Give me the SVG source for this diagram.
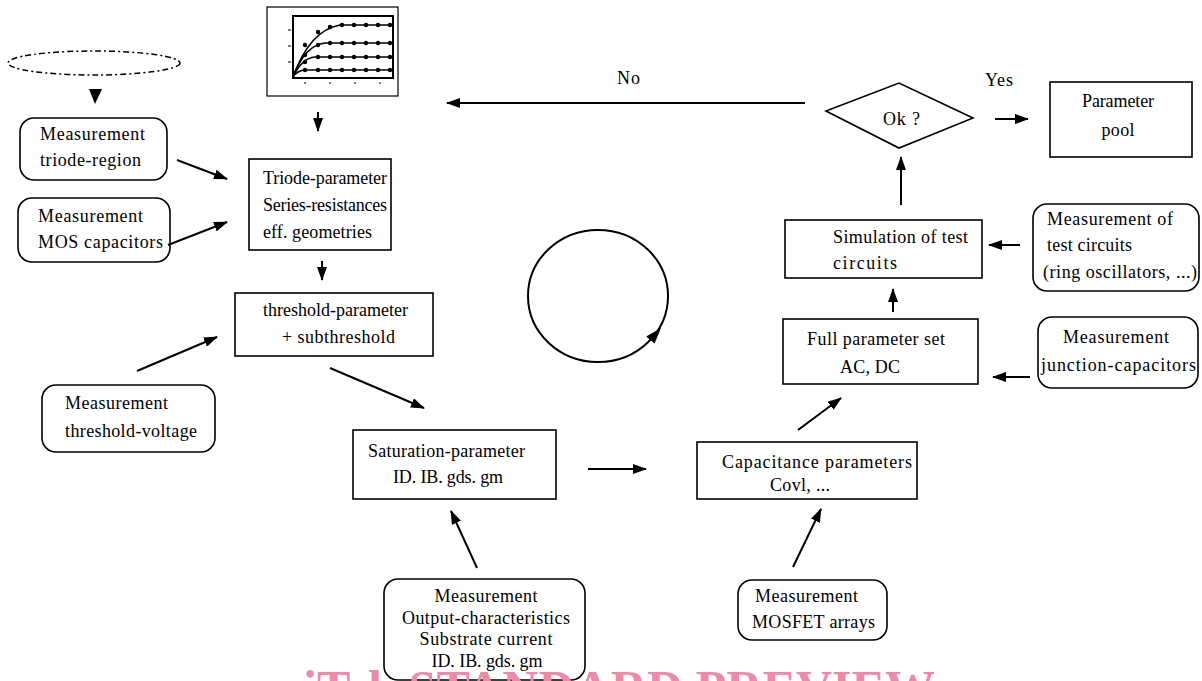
<svg xmlns="http://www.w3.org/2000/svg" width="1202" height="681" viewBox="0 0 1202 681">
<style>
.box{fill:#fff;stroke:#000;stroke-width:1.6}
.t{font-family:"Liberation Serif",serif;font-size:18px;fill:#000}
.m{text-anchor:middle}
.c line,.c path{stroke:#000;stroke-width:2;fill:none}
.c line{marker-end:url(#ah)}
.wm{font-family:"Liberation Serif",serif;font-weight:bold;font-size:50px;fill:#ec8aa8}
</style>
<defs>
<marker id="ah" viewBox="0 0 14 10" refX="13" refY="5" markerWidth="14" markerHeight="10" markerUnits="userSpaceOnUse" orient="auto">
<path d="M0,0 L14,5 L0,10 z" fill="#000"/>
</marker>
</defs>
<rect width="1202" height="681" fill="#fff"/>

<g id="source">
<ellipse cx="94" cy="63" rx="86" ry="12" fill="none" stroke="#000" stroke-width="1.5" stroke-dasharray="6 3 2 3"/>
</g>

<g id="graph">
<rect x="267" y="7" width="131" height="89" fill="#fff" stroke="#000" stroke-width="1.2"/>
<rect x="293" y="16" width="100" height="62" fill="none" stroke="#000" stroke-width="2"/>
<g stroke="#000" stroke-width="1.6" fill="none">
<path d="M293,77 Q310,30 340,25 L393,25"/>
<path d="M293,77 Q305,45 325,43 L393,43"/>
<path d="M293,77 Q302,58 315,57 L393,57"/>
<path d="M293,77 Q298,70 305,70 L393,70"/>
</g>
<g fill="#000">
<circle cx="305" cy="45" r="2.2"/><circle cx="318" cy="32" r="2.2"/><circle cx="330" cy="27" r="2.2"/><circle cx="342" cy="25" r="2.2"/><circle cx="354" cy="25" r="2.2"/><circle cx="366" cy="25" r="2.2"/><circle cx="378" cy="25" r="2.2"/><circle cx="390" cy="25" r="2.2"/>
<circle cx="305" cy="55" r="2.2"/><circle cx="318" cy="45" r="2.2"/><circle cx="330" cy="43" r="2.2"/><circle cx="342" cy="43" r="2.2"/><circle cx="354" cy="43" r="2.2"/><circle cx="366" cy="43" r="2.2"/><circle cx="378" cy="43" r="2.2"/><circle cx="390" cy="43" r="2.2"/>
<circle cx="305" cy="62" r="2.2"/><circle cx="318" cy="57" r="2.2"/><circle cx="330" cy="57" r="2.2"/><circle cx="342" cy="57" r="2.2"/><circle cx="354" cy="57" r="2.2"/><circle cx="366" cy="57" r="2.2"/><circle cx="378" cy="57" r="2.2"/><circle cx="390" cy="57" r="2.2"/>
<circle cx="305" cy="70" r="2.2"/><circle cx="318" cy="70" r="2.2"/><circle cx="330" cy="70" r="2.2"/><circle cx="342" cy="70" r="2.2"/><circle cx="354" cy="70" r="2.2"/><circle cx="366" cy="70" r="2.2"/><circle cx="378" cy="70" r="2.2"/><circle cx="390" cy="70" r="2.2"/>
</g>
<g stroke="#000" stroke-width="1">
<line x1="288" y1="30" x2="291" y2="30"/><line x1="288" y1="46" x2="291" y2="46"/><line x1="288" y1="62" x2="291" y2="62"/>
<line x1="305" y1="82" x2="305" y2="84"/><line x1="330" y1="82" x2="330" y2="84"/><line x1="355" y1="82" x2="355" y2="84"/><line x1="380" y1="82" x2="380" y2="84"/>
</g>
</g>

<g id="m-triode">
<rect class="box" x="20" y="118" width="147" height="62" rx="14"/>
<text class="t" x="40" y="140" textLength="105">Measurement</text>
<text class="t" x="40" y="166" textLength="101">triode-region</text>
</g>
<g id="m-mos">
<rect class="box" x="18" y="198" width="152" height="64" rx="14"/>
<text class="t" x="38" y="222" textLength="105">Measurement</text>
<text class="t" x="38" y="248" textLength="125">MOS capacitors</text>
</g>
<g id="triode">
<rect class="box" x="249" y="159" width="142" height="91"/>
<text class="t" x="263" y="184" textLength="124">Triode-parameter</text>
<text class="t" x="263" y="211" textLength="124">Series-resistances</text>
<text class="t" x="263" y="238" textLength="109">eff. geometries</text>
</g>
<g id="threshold">
<rect class="box" x="235" y="293" width="198" height="63"/>
<text class="t" x="263" y="316" textLength="145">threshold-parameter</text>
<text class="t" x="282" y="343" textLength="113">+ subthreshold</text>
</g>
<g id="m-threshold">
<rect class="box" x="42" y="385" width="173" height="67" rx="14"/>
<text class="t" x="65" y="409" textLength="103">Measurement</text>
<text class="t" x="65" y="437" textLength="132">threshold-voltage</text>
</g>
<g id="saturation">
<rect class="box" x="353" y="430" width="203" height="69"/>
<text class="t" x="368" y="457" textLength="157">Saturation-parameter</text>
<text class="t" x="393" y="483" textLength="110">ID. IB. gds. gm</text>
</g>
<g id="m-output">
<rect class="box" x="384" y="579" width="201" height="101" rx="14"/>
<text class="t m" x="486" y="602" textLength="103">Measurement</text>
<text class="t m" x="486" y="624" textLength="168">Output-characteristics</text>
<text class="t m" x="486" y="645" textLength="133">Substrate current</text>
<text class="t m" x="487" y="667" textLength="111">ID. IB. gds. gm</text>
</g>
<g id="capacitance">
<rect class="box" x="697" y="442" width="220" height="57"/>
<text class="t" x="722" y="468" textLength="190">Capacitance parameters</text>
<text class="t" x="770" y="491" textLength="60">Covl, ...</text>
</g>
<g id="m-mosfet">
<rect class="box" x="738" y="580" width="149" height="60" rx="14"/>
<text class="t" x="755" y="602" textLength="103">Measurement</text>
<text class="t" x="752" y="628" textLength="123">MOSFET arrays</text>
</g>
<g id="full">
<rect class="box" x="783" y="319" width="195" height="65"/>
<text class="t" x="807" y="345" textLength="138">Full parameter set</text>
<text class="t" x="840" y="373" textLength="60">AC, DC</text>
</g>
<g id="m-junction">
<rect class="box" x="1038" y="317" width="160" height="71" rx="14"/>
<text class="t" x="1063" y="343" textLength="106">Measurement</text>
<text class="t" x="1041" y="371" textLength="155">junction-capacitors</text>
</g>
<g id="simulation">
<rect class="box" x="785" y="220" width="197" height="58"/>
<text class="t" x="833" y="243" textLength="135">Simulation of test</text>
<text class="t" x="833" y="269" textLength="64">circuits</text>
</g>
<g id="m-test">
<rect class="box" x="1033" y="204" width="166" height="87" rx="14"/>
<text class="t" x="1047" y="225" textLength="126">Measurement of</text>
<text class="t" x="1047" y="251" textLength="85">test circuits</text>
<text class="t" x="1043" y="278" textLength="154">(ring oscillators, ...)</text>
</g>
<g id="ok">
<polygon points="826,111 899,83 973,118 899,148" fill="#fff" stroke="#000" stroke-width="1.6"/>
<text class="t" x="883" y="125" textLength="37">Ok ?</text>
</g>
<g id="pool">
<rect class="box" x="1050" y="82" width="142" height="75"/>
<text class="t m" x="1118" y="107" textLength="72">Parameter</text>
<text class="t m" x="1118" y="136" textLength="33">pool</text>
</g>
<g id="cycle">
<ellipse cx="598" cy="296" rx="70" ry="66" fill="none" stroke="#000" stroke-width="2"/>
<polygon points="661,328 654.6,343.5 646.2,336.5" fill="#000"/>
</g>

<g id="connectors" class="c">
<polygon points="89,89 102,89 95,104" fill="#000"/>
<line x1="318" y1="112" x2="318" y2="131"/>
<line x1="322" y1="261" x2="322" y2="280"/>
<line x1="177" y1="160" x2="227" y2="179"/>
<line x1="168" y1="245" x2="227" y2="222"/>
<line x1="137" y1="371" x2="217" y2="337"/>
<line x1="330" y1="368" x2="424" y2="408"/>
<line x1="477" y1="568" x2="451" y2="511"/>
<line x1="588" y1="469" x2="646" y2="469"/>
<line x1="793" y1="567" x2="821" y2="509"/>
<line x1="798" y1="430" x2="841" y2="398"/>
<line x1="893" y1="312" x2="893" y2="289"/>
<line x1="901" y1="205" x2="901" y2="157"/>
<line x1="995" y1="119" x2="1028" y2="119"/>
<line x1="1030" y1="377" x2="993" y2="377"/>
<line x1="1020" y1="245" x2="989" y2="245"/>
<line x1="805" y1="103" x2="447" y2="103"/>
</g>
<text class="t" x="617" y="84" textLength="23">No</text>
<text class="t" x="985" y="86" textLength="28">Yes</text>
<text class="wm" x="303" y="705" textLength="632">iTeh STANDARD PREVIEW</text>
</svg>
